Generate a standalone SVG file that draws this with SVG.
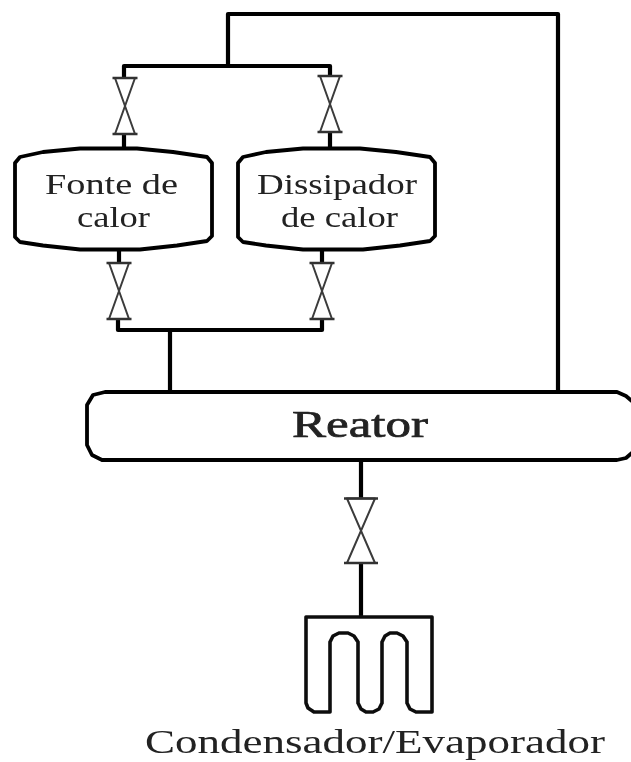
<svg xmlns="http://www.w3.org/2000/svg" width="631" height="762" viewBox="0 0 631 762">
<style>
.pipe{fill:none;stroke:#000;stroke-width:4.2;stroke-linejoin:round}
.thin{fill:none;stroke:#0a0a0a;stroke-width:3.6;stroke-linejoin:round}
.valve{fill:#fff;stroke:#3a3a3a;stroke-width:2;stroke-linejoin:round}
.bar{fill:none;stroke:#333;stroke-width:2.6}
.node{fill:#fff;stroke:#000;stroke-width:3.8;stroke-linejoin:round}
text{font-family:"Liberation Serif","Times New Roman",serif;fill:#222;text-anchor:middle}
.lab{font-size:30px}
</style>
<defs>
<filter id="soft" x="0" y="0" width="631" height="762" filterUnits="userSpaceOnUse"><feGaussianBlur stdDeviation="0.6"/></filter>
<g id="v"><path class="valve" d="M-10 0H10L-10 56H10Z"/><path class="bar" d="M-12.500 0H12.500M-12.500 56H12.500"/></g>
<path id="tank" class="node" d="M15 163L20 157L43 152L80 148.500H137L173 152L207 157L212 163V236L207 241L177 245.500L140 249.500H80L43 245.500L20 242L15 237Z"/>
</defs>
<rect width="631" height="762" fill="#fff"/>
<g filter="url(#soft)">
<g id="connectors">
<path class="pipe" d="M228 66V14H558V392"/>
<path class="pipe" d="M124 78V66H330V78"/>
<path class="pipe" d="M124 134V150M330 132V150"/>
<path class="pipe" d="M119 250V264M322 250V264"/>
<path class="pipe" d="M118 318V330H322V318"/>
<path class="pipe" d="M170 330V392"/>
<path class="pipe" d="M361 460V499M361 563V618"/>
</g>
<g id="valve-top-left"><use href="#v" transform="translate(125 78)"/></g>
<g id="valve-top-right"><use href="#v" transform="translate(330 76)"/></g>
<g id="valve-bottom-left"><use href="#v" transform="translate(119 263)"/></g>
<g id="valve-bottom-right"><use href="#v" transform="translate(322 263)"/></g>
<g id="valve-condenser"><path class="valve" d="M347 498.500H375L347 563H375Z"/><path class="bar" d="M344 498.500H378M344 563H378"/></g>
<g id="fonte">
<use href="#tank"/>
<text class="lab" x="111.500" y="194" textLength="133" lengthAdjust="spacingAndGlyphs">Fonte de</text>
<text class="lab" x="113.500" y="227" textLength="73" lengthAdjust="spacingAndGlyphs">calor</text>
</g>
<g id="dissipador">
<use href="#tank" transform="translate(223 0)"/>
<text class="lab" x="337" y="194" textLength="160" lengthAdjust="spacingAndGlyphs">Dissipador</text>
<text class="lab" x="339.500" y="227" textLength="117" lengthAdjust="spacingAndGlyphs">de calor</text>
</g>
<g id="reator">
<path class="node" d="M633 402L626 396L617 392H105L93 395L87 405V445L92 455L102 460H617L626 458L633 452"/>
<text x="360" y="437" font-size="38" stroke="#222" stroke-width="0.7" textLength="136" lengthAdjust="spacingAndGlyphs">Reator</text>
</g>
<g id="condensador">
<path class="thin" d="M361 617H432V712H416L410 709L407 703V642L403 636L397 633H390L385 636L382 642V703L379 709L373 712H366L361 709L358 703V642L354 636L348 633H339L333 636L330 642V712H314L308 708L306 703V617Z"/>
<text style="font-size:33px" x="375" y="753" textLength="460" lengthAdjust="spacingAndGlyphs">Condensador/Evaporador</text>
</g>
</g>
</svg>
